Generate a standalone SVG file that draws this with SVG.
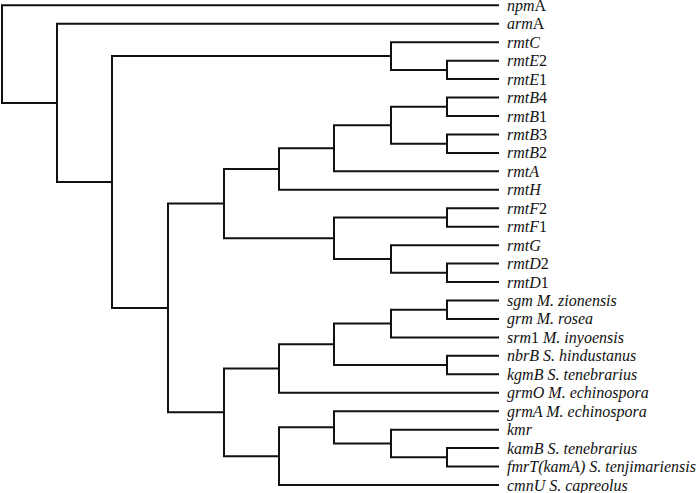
<svg xmlns="http://www.w3.org/2000/svg" width="700" height="493" viewBox="0 0 700 493">
<style>
.br{fill:none;stroke:#111;stroke-width:2;stroke-linecap:square;stroke-linejoin:miter}
.lb{font-family:"Liberation Serif","Times New Roman",serif;font-size:16px;font-style:italic;fill:#111}
.up{font-style:normal}
</style>
<rect width="700" height="493" fill="#fff"/>
<g id="connectors">
<path class="br" d="M498 5.3H2V102.9H57"/>
<path class="br" d="M498 23.75H57V182H112"/>
<path class="br" d="M391 56H112V308H168"/>
<path class="br" d="M498 42.2H391V69.9H447"/>
<path class="br" d="M498 60.65H447V79.1H498"/>
<path class="br" d="M224 203.6H168V412.3H224"/>
<path class="br" d="M279 169H224V238.2H334"/>
<path class="br" d="M334 148.3H279V189.8H498"/>
<path class="br" d="M391 125.2H334V171.35H498"/>
<path class="br" d="M447 106.8H391V143.7H447"/>
<path class="br" d="M498 97.55H447V116H498"/>
<path class="br" d="M498 134.45H447V152.9H498"/>
<path class="br" d="M447 217.5H334V259H391"/>
<path class="br" d="M498 208.25H447V226.7H498"/>
<path class="br" d="M498 245.15H391V272.8H447"/>
<path class="br" d="M498 263.6H447V282.05H498"/>
<path class="br" d="M279 368.5H224V456.2H279"/>
<path class="br" d="M334 344.3H279V392.75H498"/>
<path class="br" d="M391 323.6H334V365.1H447"/>
<path class="br" d="M447 309.7H391V337.4H498"/>
<path class="br" d="M498 300.5H447V318.95H498"/>
<path class="br" d="M498 355.85H447V374.3H498"/>
<path class="br" d="M334 427.3H279V485H498"/>
<path class="br" d="M498 411.2H334V443.5H391"/>
<path class="br" d="M498 429.65H391V457.3H447"/>
<path class="br" d="M498 448.1H447V466.55H498"/>
</g>
<g id="leaf-npmA"><text class="lb" x="507" y="10.8">npm<tspan class="up">A</tspan></text></g>
<g id="leaf-armA"><text class="lb" x="507" y="29.25">arm<tspan class="up">A</tspan></text></g>
<g id="leaf-rmtC"><text class="lb" x="507" y="47.7">rmtC</text></g>
<g id="leaf-rmtE2"><text class="lb" x="507" y="66.15">rmtE<tspan class="up">2</tspan></text></g>
<g id="leaf-rmtE1"><text class="lb" x="507" y="84.6">rmtE<tspan class="up">1</tspan></text></g>
<g id="leaf-rmtB4"><text class="lb" x="507" y="103.05">rmtB<tspan class="up">4</tspan></text></g>
<g id="leaf-rmtB1"><text class="lb" x="507" y="121.5">rmtB<tspan class="up">1</tspan></text></g>
<g id="leaf-rmtB3"><text class="lb" x="507" y="139.95">rmtB<tspan class="up">3</tspan></text></g>
<g id="leaf-rmtB2"><text class="lb" x="507" y="158.4">rmtB<tspan class="up">2</tspan></text></g>
<g id="leaf-rmtA"><text class="lb" x="507" y="176.85">rmtA</text></g>
<g id="leaf-rmtH"><text class="lb" x="507" y="195.3">rmtH</text></g>
<g id="leaf-rmtF2"><text class="lb" x="507" y="213.75">rmtF<tspan class="up">2</tspan></text></g>
<g id="leaf-rmtF1"><text class="lb" x="507" y="232.2">rmtF<tspan class="up">1</tspan></text></g>
<g id="leaf-rmtG"><text class="lb" x="507" y="250.65">rmtG</text></g>
<g id="leaf-rmtD2"><text class="lb" x="507" y="269.1">rmtD<tspan class="up">2</tspan></text></g>
<g id="leaf-rmtD1"><text class="lb" x="507" y="287.55">rmtD<tspan class="up">1</tspan></text></g>
<g id="leaf-sgm"><text class="lb" x="507" y="306">sgm M. zionensis</text></g>
<g id="leaf-grm"><text class="lb" x="507" y="324.45">grm M. rosea</text></g>
<g id="leaf-srm1"><text class="lb" x="507" y="342.9">srm<tspan class="up">1</tspan> M. inyoensis</text></g>
<g id="leaf-nbrB"><text class="lb" x="507" y="361.35">nbrB S. hindustanus</text></g>
<g id="leaf-kgmB"><text class="lb" x="507" y="379.8">kgmB S. tenebrarius</text></g>
<g id="leaf-grmO"><text class="lb" x="507" y="398.25">grmO M. echinospora</text></g>
<g id="leaf-grmA"><text class="lb" x="507" y="416.7">grmA M. echinospora</text></g>
<g id="leaf-kmr"><text class="lb" x="507" y="435.15">kmr</text></g>
<g id="leaf-kamB"><text class="lb" x="507" y="453.6">kamB S. tenebrarius</text></g>
<g id="leaf-fmrT"><text class="lb" x="507" y="472.05">fmrT(kamA) S. tenjimariensis</text></g>
<g id="leaf-cmnU"><text class="lb" x="507" y="490.5">cmnU S. capreolus</text></g>
</svg>
